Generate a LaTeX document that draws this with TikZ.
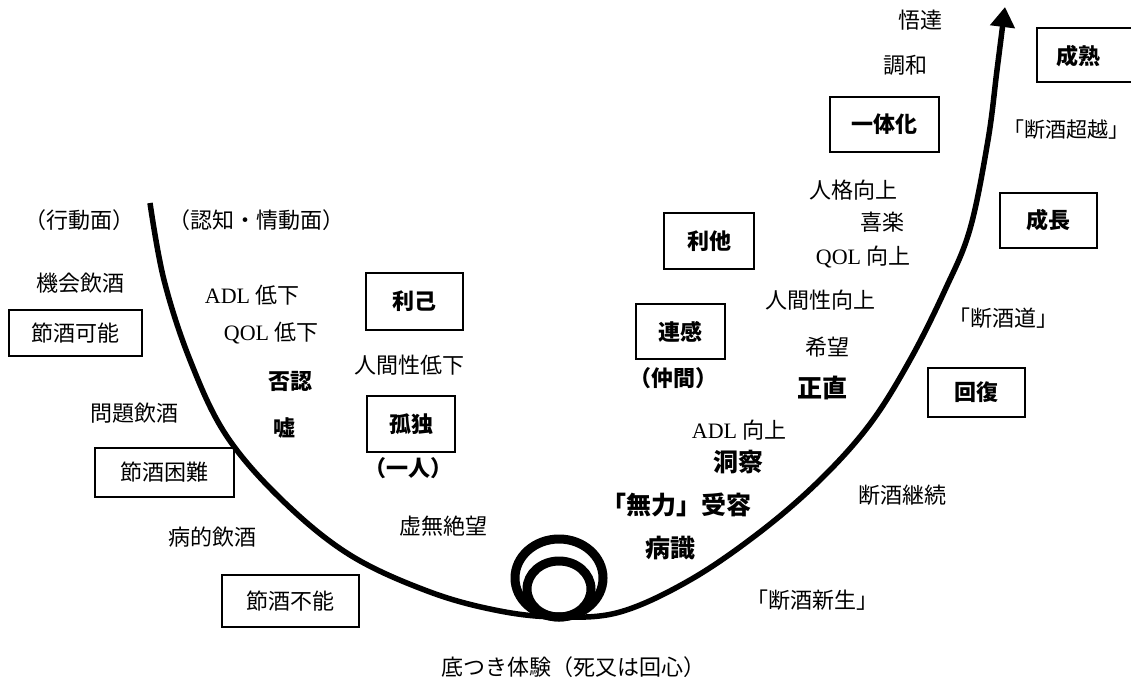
\documentclass[tikz,border=0pt]{standalone}
\usepackage{fontspec}
\setmainfont{Noto Sans CJK JP}
\newfontfamily\rom{Liberation Serif}
\usetikzlibrary{arrows.meta}
\tikzset{
  lbl/.style={inner sep=0pt, font=\fontsize{22}{26}\selectfont},
  bld/.style={inner sep=0pt, font=\fontsize{22}{26}\selectfont\bfseries},
  bigb/.style={inner sep=0pt, font=\fontsize{25}{30}\selectfont\bfseries},
  boxn/.style={draw, line width=1.3pt, inner sep=0pt, font=\fontsize{22}{26}\selectfont},
  boxb/.style={boxn, font=\fontsize{22}{26}\selectfont\bfseries},
  curve/.style={line width=5.5pt, line cap=butt},
  ring/.style={line width=9pt},
}
\begin{document}
\begin{tikzpicture}[x=1pt,y=-1pt]
\useasboundingbox (0,0) rectangle (1131,679);
% main curve
\draw[curve, -{Triangle[width=24pt,length=20pt]}] plot[smooth, tension=0.6] coordinates {(150,203) (164,280) (190,360) (226,435) (282,500) (350,555) (430,592) (500,611) (559,617) (620,612) (690,580) (760,532) (820,480) (870,424) (910,360) (945,290) (970,229) (988,140) (997,70) (1005,7)};
% loops
\draw[ring] (559,578) ellipse [x radius=44, y radius=39];
\draw[ring] (559,589) ellipse [x radius=32, y radius=28];

% left side texts
\node[lbl] (koudou) at (79,220) {（行動面）};
\node[lbl] (ninchi) at (256,220) {（認知・情動面）};
\node[lbl] (kikai) at (80,283) {機会飲酒};
\node[boxn, minimum width=133pt, minimum height=46pt] (kanou) at (75.5,333) {節酒可能};
\node[lbl] (adlt) at (252,295) {{\rom ADL} 低下};
\node[lbl] (qolt) at (271,333) {{\rom QOL} 低下};
\node[bld] (hinin) at (290,381) {否認};
\node[bld] (uso) at (284,428) {嘘};
\node[boxb, minimum width=97pt, minimum height=57pt] (riko) at (414.5,301.5) {利己};
\node[lbl] (ningent) at (409,365) {人間性低下};
\node[boxb, minimum width=88pt, minimum height=56pt] (kodoku) at (411,424) {孤独};
\node[bld] (hitori) at (408,468) {（一人）};
\node[lbl] (mondai) at (134,413) {問題飲酒};
\node[boxn, minimum width=139pt, minimum height=49pt] (konnan) at (164.5,472.5) {節酒困難};
\node[lbl] (byouteki) at (212,537) {病的飲酒};
\node[boxn, minimum width=137pt, minimum height=52pt] (funou) at (290.5,601) {節酒不能};
\node[lbl] (kyomu) at (443,526) {虚無絶望};
\node[lbl] (sokotsuki) at (573,667) {底つき体験（死又は回心）};

% right side texts
\node[lbl] (gotatsu) at (920,20) {悟達};
\node[lbl] (chouwa) at (905,65) {調和};
\node[boxb, minimum width=109pt, minimum height=55pt] (ittaika) at (884.5,124.5) {一体化};
\draw[line width=1.3pt] (1037,28) rectangle (1135,82);
\node[bld] (seijuku) at (1078,56) {成熟};
\node[lbl, font=\fontsize{21}{25}\selectfont] (chouetsu) at (1066,130) {「断酒超越」};
\node[lbl] (jinkaku) at (853,190) {人格向上};
\node[lbl] (kiraku) at (882,222) {喜楽};
\node[lbl] (qolu) at (863,257) {{\rom QOL} 向上};
\node[boxb, minimum width=97pt, minimum height=55pt] (seichou) at (1048.5,220.5) {成長};
\node[boxb, minimum width=90pt, minimum height=56pt] (rita) at (709,241) {利他};
\node[lbl] (ningenu) at (820,300) {人間性向上};
\node[lbl] (dando) at (1003,318) {「断酒道」};
\node[boxb, minimum width=89pt, minimum height=55pt] (renkan) at (680.5,331.5) {連感};
\node[lbl] (kibou) at (827,347) {希望};
\node[bld] (nakama) at (673,378) {（仲間）};
\node[bigb] (shouchoku) at (822,388) {正直};
\node[boxb, minimum width=97pt, minimum height=49pt] (kaifuku) at (976.5,392.5) {回復};
\node[lbl] (adlu) at (739,430) {{\rom ADL} 向上};
\node[bigb] (dousatsu) at (738,462) {洞察};
\node[lbl] (keizoku) at (902,495) {断酒継続};
\node[bigb] (juyou) at (676,505) {「無力」受容};
\node[bigb] (byoushiki) at (670,548) {病識};
\node[lbl] (shinsei) at (812,600) {「断酒新生」};
\end{tikzpicture}
\end{document}
